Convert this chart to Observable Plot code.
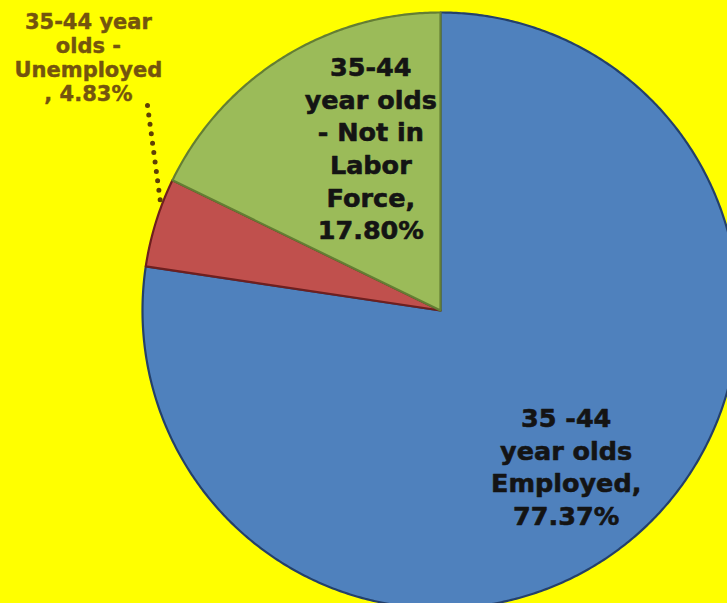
<!DOCTYPE html>
<html><head><meta charset="utf-8">
<script src="https://cdn.jsdelivr.net/npm/d3@7"></script>
<script src="https://cdn.jsdelivr.net/npm/@observablehq/plot@0.6"></script>
<style>html,body{margin:0;padding:0;background:#FFFF00;overflow:hidden}</style>
</head><body><div id="chart"></div>
<script>
const categories = ["35 -44 year olds Employed", "35-44 year olds - Unemployed", "35-44 year olds - Not in Labor Force"];
const values = [77.37, 4.83, 17.80];
const labels = ["35 -44\nyear olds\nEmployed,\n77.37%", "35-44 year\nolds -\nUnemployed\n, 4.83%", "35-44\nyear olds\n- Not in\nLabor\nForce,\n17.80%"];

const W = 727, H = 603, R = 298, CX = 440, CY = 310;
const fillColors = ["#4F81BD", "#C0504D", "#9BBB59"];
const strokeColors = ["#24406A", "#6E1F1F", "#647E34"];
const labelPlace = [{a: 141.0, r: 0.670}, {a: 305.7, r: 1.455}, {a: 336.9, r: 0.596}];

const arcs = d3.pie().sort(null).startAngle(0).endAngle(2 * Math.PI)(values);
const polar = (a, r) => ({x: Math.sin(a) * r, y: Math.cos(a) * r});

const marks = arcs.map((arc, i) => {
  const pts = [{x: 0, y: 0}];
  const n = Math.max(2, Math.ceil((arc.endAngle - arc.startAngle) / (Math.PI / 360)));
  for (let k = 0; k <= n; k++) pts.push(polar(arc.startAngle + (arc.endAngle - arc.startAngle) * k / n, 1));
  pts.push({x: 0, y: 0});
  return Plot.line(pts, {x: "x", y: "y", fill: fillColors[i], stroke: strokeColors[i], strokeWidth: 2.2, strokeLinejoin: "round"});
});

const labelData = labels.map((t, i) => ({text: t, ...polar(labelPlace[i].a * Math.PI / 180, labelPlace[i].r), cat: categories[i]}));
const inner = labelData.filter((d, i) => i !== 1);
const outer = labelData.filter((d, i) => i === 1);

// leader line for the small slice
const red = arcs[1];
const leaderEnd = polar(red.startAngle + (red.endAngle - red.startAngle) * 0.68, 1);
const leader = [{x: (147 - CX) / R, y: (CY - 105) / R}, leaderEnd];

const chart = Plot.plot({
  width: W, height: H,
  margin: 0,
  style: {background: "#FFFF00", overflow: "hidden"},
  x: {domain: [-CX / R, (W - CX) / R], axis: null},
  y: {domain: [-(H - CY) / R, CY / R], axis: null},
  marks: [
    ...marks,
    Plot.line(leader, {x: "x", y: "y", stroke: "#5E3F05", strokeWidth: 5, strokeDasharray: "0 9.5", strokeLinecap: "round"}),
    Plot.text(inner, {x: "x", y: "y", text: "text", fontSize: 25.5, fontWeight: "bold", fontFamily: "DejaVu Sans", lineHeight: 1.28, fill: "#141414", stroke: "#141414", strokeWidth: 0.6, textAnchor: "middle"}),
    Plot.text(outer, {x: "x", y: "y", text: "text", fontSize: 21, fontWeight: "bold", fontFamily: "DejaVu Sans", lineHeight: 1.15, fill: "#74540E", stroke: "#74540E", strokeWidth: 0.4, textAnchor: "middle"})
  ]
});
document.getElementById("chart").appendChild(chart);
</script>
</body></html>
